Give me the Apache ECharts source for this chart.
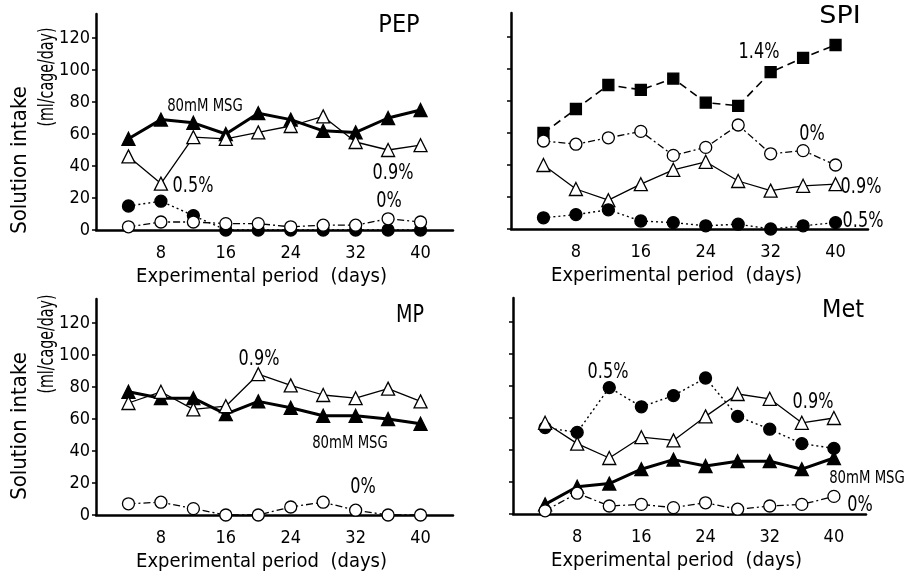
<!DOCTYPE html>
<html>
<head>
<meta charset="utf-8">
<script src="https://cdn.jsdelivr.net/npm/echarts@6/dist/echarts.min.js"></script>
<style>
  html, body { margin: 0; padding: 0; background: #fff; }
  #chart { width: 906px; height: 576px; }
</style>
</head>
<body>
<div id="chart"></div>
<script>
// days on which intake was measured
var days = [4, 8, 12, 16, 20, 24, 28, 32, 36, 40];
var xTicks = [8, 16, 24, 32, 40];
var yTicks = [0, 20, 40, 60, 80, 100, 120];

// PEP
var pepMsg = [57, 69, 67, 60, 73, 69, 62, 61, 70, 75];
var pep09 = [46, 29, 58, 57, 61, 65, 71, 55, 50, 53];
var pep05 = [15, 18, 9, 0, 0, 0, 0, 0, 0, 0];
var pep0 = [2, 5, 5, 4, 4, 2, 3, 3, 7, 5];

// SPI
var spi14 = [60, 75, 90, 87, 94, 79, 77, 98, 107, 115];
var spi0 = [55, 53, 57, 61, 46, 51, 65, 47, 49, 40];
var spi09 = [40, 25, 18, 28, 37, 42, 30, 24, 27, 28];
var spi05 = [7, 9, 12, 5, 4, 2, 3, 0, 2, 4];

// MP
var mpMsg = [77, 73, 73, 63, 71, 67, 62, 62, 60, 57];
var mp09 = [70, 77, 66, 68, 88, 81, 75, 73, 79, 71];
var mp0 = [7, 8, 4, 0, 0, 5, 8, 3, 0, 0];

// Met
var met05 = [54, 51, 79, 67, 74, 85, 61, 53, 44, 41];
var met09 = [57, 44, 35, 48, 46, 61, 75, 72, 57, 60];
var metMsg = [6, 17, 19, 28, 34, 30, 33, 33, 28, 35];
var met0 = [2, 13, 5, 6, 4, 7, 3, 5, 6, 11];

var FONT = "'DejaVu Sans Condensed', 'DejaVu Sans', sans-serif";

function pairs(vals) {
    return days.map(function (d, i) { return [d, vals[i]]; });
}

// marker / line look per solution type
var looks = {
    msg: { symbol: 'triangle', size: 13, fill: '#000', line: { width: 3, type: 'solid' } },
    p09: { symbol: 'triangle', size: 13, fill: '#fff', line: { width: 1.3, type: 'solid' } },
    p05: { symbol: 'circle', size: 12, fill: '#000', line: { width: 1.4, type: [2, 3] } },
    p0: { symbol: 'circle', size: 12, fill: '#fff', line: { width: 1.3, type: [7, 3, 2, 3] } },
    p14: { symbol: 'rect', size: 11, fill: '#000', line: { width: 1.6, type: [8, 5] } }
};

function line(name, vals, idx, kind) {
    var lk = looks[kind];
    return {
        name: name,
        type: 'line',
        xAxisIndex: idx,
        yAxisIndex: idx,
        data: pairs(vals),
        symbol: lk.symbol,
        symbolSize: lk.size,
        showAllSymbol: true,
        animation: false,
        itemStyle: { color: lk.fill, borderColor: '#000', borderWidth: 1.3 },
        lineStyle: { color: '#000', width: lk.line.width, type: lk.line.type },
        z: kind === 'msg' ? 3 : 4
    };
}

var grids = [
    { left: 96, right: 453, top: 14, bottom: 346 },
    { left: 511, right: 38, top: 13, bottom: 347 },
    { left: 96, right: 453, top: 299, bottom: 61 },
    { left: 513, right: 40, top: 298, bottom: 62 }
];

var xAxes = [], yAxes = [];
for (var i = 0; i < 4; i++) {
    xAxes.push({
        type: 'value', gridIndex: i, min: 0, max: 44,
        axisLine: { lineStyle: { color: '#000', width: 2.5 } },
        axisTick: { show: false },
        splitLine: { show: false },
        axisLabel: { customValues: xTicks, color: '#000', fontSize: 18, fontFamily: FONT, margin: 14 },
        name: 'Experimental period  (days)',
        nameLocation: 'middle',
        nameGap: 37,
        nameTextStyle: { color: '#000', fontSize: 20, fontFamily: FONT, padding: [0, 26, 0, 0] }
    });
    yAxes.push({
        type: 'value', gridIndex: i, min: 0, max: 135,
        axisLine: { show: true, lineStyle: { color: '#000', width: 2.5 } },
        axisTick: { show: true, customValues: yTicks, length: 4, lineStyle: { color: '#000', width: 1.5 } },
        splitLine: { show: false },
        axisLabel: { show: i % 2 === 0, customValues: yTicks, color: '#000', fontSize: 18, fontFamily: FONT, margin: 6 }
    });
}

var series = [
    line('80mM MSG', pepMsg, 0, 'msg'),
    line('0.9%', pep09, 0, 'p09'),
    line('0.5%', pep05, 0, 'p05'),
    line('0%', pep0, 0, 'p0'),
    line('1.4%', spi14, 1, 'p14'),
    line('0%', spi0, 1, 'p0'),
    line('0.9%', spi09, 1, 'p09'),
    line('0.5%', spi05, 1, 'p05'),
    line('80mM MSG', mpMsg, 2, 'msg'),
    line('0.9%', mp09, 2, 'p09'),
    line('0%', mp0, 2, 'p0'),
    line('0.5%', met05, 3, 'p05'),
    line('0.9%', met09, 3, 'p09'),
    line('80mM MSG', metMsg, 3, 'msg'),
    line('0%', met0, 3, 'p0')
];

// text with optional horizontal squeeze (the original uses a narrow face)
function txt(s, x, y, size, sx, rot) {
    return {
        type: 'text', x: x, y: y, rotation: rot || 0, scaleX: sx || 1,
        style: { text: s, fill: '#000', fontSize: size, fontFamily: FONT, align: 'center', verticalAlign: 'middle' }
    };
}

var UP = Math.PI / 2;
var notes = [
    txt('PEP', 399, 25, 25), txt('80mM MSG', 205, 106, 18, 0.82), txt('0.5%', 193, 187, 21, 0.85),
    txt('0.9%', 393, 174, 21, 0.85), txt('0%', 389, 202, 21, 0.85),
    txt('SPI', 840, 16, 25, 1.2), txt('1.4%', 759, 53, 21, 0.85), txt('0%', 812, 135, 21, 0.85),
    txt('0.9%', 861, 188, 21, 0.85), txt('0.5%', 863, 222, 21, 0.85),
    txt('MP', 410, 315, 25, 0.85), txt('0.9%', 259, 360, 21, 0.85), txt('80mM MSG', 350, 443, 18, 0.82),
    txt('0%', 363, 488, 21, 0.85),
    txt('Met', 843, 310, 25), txt('0.5%', 608, 373, 21, 0.85), txt('0.9%', 813, 403, 21, 0.85),
    txt('80mM MSG', 867, 478, 18, 0.82), txt('0%', 860, 506, 21, 0.85),
    txt('Solution intake', 20, 160, 22, 1, UP), txt('(ml/cage/day)', 47, 77, 22, 0.72, UP),
    txt('Solution intake', 20, 426, 22, 1, UP), txt('(ml/cage/day)', 47, 344, 22, 0.72, UP)
];

var chart = echarts.init(document.getElementById('chart'));
chart.setOption({
    backgroundColor: '#fff',
    animation: false,
    grid: grids,
    xAxis: xAxes,
    yAxis: yAxes,
    series: series,
    graphic: notes
});
</script>
</body>
</html>
